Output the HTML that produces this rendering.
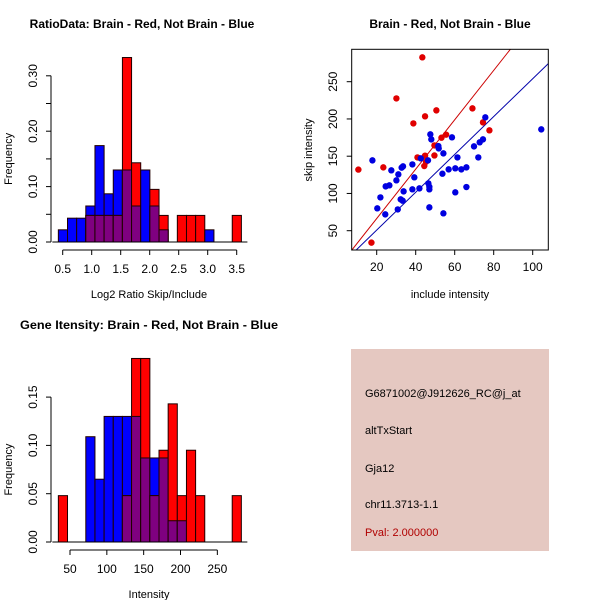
<!DOCTYPE html>
<html><head><meta charset="utf-8"><style>
html,body{margin:0;padding:0;background:#fff;}
svg text{font-family:"Liberation Sans",sans-serif;}
</style></head><body>
<svg id="svg" width="600" height="600" viewBox="0 0 600 600" xmlns="http://www.w3.org/2000/svg">
<rect x="351" y="349" width="198" height="202" fill="#E5C8C1"/>
<text x="365" y="397" font-size="11">G6871002@J912626_RC@j_at</text>
<text x="365" y="434" font-size="11">altTxStart</text>
<text x="365" y="472" font-size="11">Gja12</text>
<text x="365" y="508" font-size="11">chr11.3713-1.1</text>
<text x="365" y="536" font-size="11" fill="#B00000">Pval: 2.000000</text>
</svg>
<script>
// ---- Histogram 1 data ----
const ratioBinStart = 0.425, ratioBinWidth = 0.1578;
const ratioBlue = [0.022,0.043,0.043,0.065,0.174,0.087,0.13,0.13,0.065,0.13,0.065,0.022,0,0,0,0,0.022,0,0,0];
const ratioRed  = [0,0,0,0.048,0.048,0.048,0.048,0.333,0.143,0,0.095,0.048,0,0.048,0.048,0.048,0,0,0,0.048];
const ratioXTicks = [0.5,1.0,1.5,2.0,2.5,3.0,3.5];
const ratioYTicks = [0,0.05,0.10,0.15,0.20,0.25,0.30];
const ratioYLabels = ["0.00","","0.10","","0.20","","0.30"];
// ---- Histogram 2 data ----
const intBinStart = 34.2, intBinWidth = 12.42;
const intBlue = [0,0,0,0.109,0.065,0.13,0.13,0.13,0.13,0.087,0.087,0.087,0.022,0.022,0,0,0,0,0,0];
const intRed  = [0.048,0,0,0,0,0,0,0.048,0.19,0.19,0.048,0.095,0.143,0.048,0.095,0.048,0,0,0,0.048];
const intXTicks = [50,100,150,200,250];
const intYTicks = [0,0.05,0.10,0.15];
const intYLabels = ["0.00","0.05","0.10","0.15"];
// ---- Scatter data ----
const redX = [10.6,17.3,23.4,30.1,38.8,40.9,43.4,44.4,44.8,44.8,45.3,49.6,49.6,50.6,53.2,55.6,69.1,74.5,77.8];
const redY = [132,34,135,227.6,194,148.4,282.7,136.8,203.5,150.7,142.6,151,164.5,211.5,174.8,178.9,214.2,195.4,184.7];
const blueX = [17.8,20.3,21.9,24.4,24.6,26.5,27.5,30.1,30.8,31.1,32.3,32.8,33.5,33.3,33.8,38.3,38.3,39.3,41.9,42.6,46.3,46.5,47,47,47,47.5,48,51.6,51.8,53.7,54.2,54.2,56.9,58.6,60.3,60.3,61.4,63.4,66,66,69.9,72.1,72.8,74.5,75.7,104.4];
const blueY = [144.4,80,94.7,71.9,109.5,110.9,131,117.6,78.6,125.6,92.1,134.6,136.4,90.3,102.8,139,105.5,121.6,106.8,147.1,144.4,113.5,109,105.5,81.3,179.3,172.6,163.6,160.5,126.5,153.8,73.3,132.3,175.3,133.7,101.5,148.4,132.3,108.6,135,163.2,148.4,168.6,172.6,202.1,186];
const redSlope = 3.315, blueSlope = 2.54;
const scXTicks = [20,40,60,80,100];
const scYTicks = [50,100,150,200,250];

const svg = document.getElementById('svg');
const NS = 'http://www.w3.org/2000/svg';
function mk(tag, attrs, text){const e=document.createElementNS(NS,tag);for(const k in attrs)e.setAttribute(k,attrs[k]);if(text!==undefined)e.textContent=text;svg.appendChild(e);return e;}

function histogram(opt){
  const {x0,y0,xs,ys,binStart,binW,blue,red,xTicks,yTicks,yLabels,title,xlab,titleX,titleY,xlabY,prefix} = opt;
  const X = v => x0 + (v - opt.xRef) * xs;
  const Y = v => y0 - v * ys;
  for(let i=0;i<blue.length;i++){
    const a = X(binStart+i*binW), b = X(binStart+(i+1)*binW);
    const hb = blue[i], hr = red[i], m = Math.min(hb,hr);
    if(hb>0){const r=mk('rect',{x:a,y:Y(hb),width:b-a,height:Y(0)-Y(hb),fill:'#0000FF',stroke:'#200000','stroke-width':1});
      
      }
    if(hr>0){const r=mk('rect',{x:a,y:Y(hr),width:b-a,height:Y(0)-Y(hr),fill:'#FF0000',stroke:'#200000','stroke-width':1});
      
      }
    if(m>0){const r=mk('rect',{x:a,y:Y(m),width:b-a,height:Y(0)-Y(m),fill:'#7F0080',stroke:'#200000','stroke-width':1});
      
      }
  }
  const start = X(binStart), end = X(binStart+blue.length*binW);
  const base = mk('line',{x1:start-6,y1:y0,x2:end+6,y2:y0,stroke:'#000','stroke-width':1});
  
  
  const ay = y0+8;
  const xa = mk('line',{x1:X(xTicks[0]),y1:ay,x2:X(xTicks[xTicks.length-1]),y2:ay,stroke:'#000'});
  
  
  xTicks.forEach(t=>{
    mk('line',{x1:X(t),y1:ay,x2:X(t),y2:ay+5,stroke:'#000'});
    const l=mk('text',{x:X(t),y:ay+23,'font-size':12,'text-anchor':'middle'},opt.fmtX(t));
    
    
  });
  const ax = 51;
  const ya = mk('line',{x1:ax,y1:Y(yTicks[0]),x2:ax,y2:Y(yTicks[yTicks.length-1]),stroke:'#000'});
  
  
  yTicks.forEach((t,i)=>{
    mk('line',{x1:ax-5,y1:Y(t),x2:ax,y2:Y(t),stroke:'#000'});
    if(yLabels[i]){
      const l=mk('text',{x:0,y:0,'font-size':12,'text-anchor':'middle',transform:`translate(37,${Y(t)}) rotate(-90)`},yLabels[i]);
      
      
    }
  });
  const ta={x:titleX,y:titleY,'font-size':12,'font-weight':'bold','text-anchor':'middle'};
  if(opt.titleLen){ta.textLength=opt.titleLen;ta.lengthAdjust='spacingAndGlyphs';}
  const tt=mk('text',ta,title);
  
  
  const xl=mk('text',{x:149,y:xlabY,'font-size':11,'text-anchor':'middle'},xlab);
  
  
  const yl=mk('text',{x:0,y:0,'font-size':11,'text-anchor':'middle',transform:`translate(12,${(Y(0)+Y(yTicks[yTicks.length-1]))/2}) rotate(-90)`},'Frequency');
  
  
}

histogram({x0:62.7,xRef:0.5,xs:58,y0:242,ys:554,binStart:ratioBinStart,binW:ratioBinWidth,blue:ratioBlue,red:ratioRed,
  xTicks:ratioXTicks,yTicks:ratioYTicks,yLabels:ratioYLabels,title:'RatioData: Brain - Red, Not Brain - Blue',
  titleX:142,titleY:28,xlab:'Log2 Ratio Skip/Include',xlabY:298,prefix:'ratio-hist',fmtX:t=>t.toFixed(1)});
histogram({x0:70,xRef:50,xs:0.7367,y0:542,ys:966,binStart:intBinStart,binW:intBinWidth,blue:intBlue,red:intRed,
  xTicks:intXTicks,yTicks:intYTicks,yLabels:intYLabels,title:'Gene Itensity: Brain - Red, Not Brain - Blue',
  titleX:149,titleY:329,titleLen:258,xlab:'Intensity',xlabY:598,prefix:'intensity-hist',fmtX:t=>String(t)});

(function(){
  const L=351.7,R=548.3,T=49.3,B=250;
  const X = v => 376.7 + (v-20)*1.95;
  const Y = v => 230.7 - (v-50)*0.745;
  const Xinv = px => 20 + (px-376.7)/1.95;
  const defs = mk('defs',{});
  const cp = document.createElementNS(NS,'clipPath'); cp.setAttribute('id','scClip');
  const cr = document.createElementNS(NS,'rect'); cr.setAttribute('x',L);cr.setAttribute('y',T);cr.setAttribute('width',R-L);cr.setAttribute('height',B-T);
  cp.appendChild(cr); defs.appendChild(cp);
  const g = mk('g',{'clip-path':'url(#scClip)'});
  
  
  const xmin=Xinv(L), xmax=Xinv(R);
  const lr=document.createElementNS(NS,'line');
  lr.setAttribute('x1',X(xmin));lr.setAttribute('y1',Y(redSlope*xmin));lr.setAttribute('x2',X(xmax));lr.setAttribute('y2',Y(redSlope*xmax));
  lr.setAttribute('stroke','#CC0000');
  
  
  g.appendChild(lr);
  const lb=document.createElementNS(NS,'line');
  lb.setAttribute('x1',X(xmin));lb.setAttribute('y1',Y(blueSlope*xmin));lb.setAttribute('x2',X(xmax));lb.setAttribute('y2',Y(blueSlope*xmax));
  lb.setAttribute('stroke','#0000AA');
  
  
  g.appendChild(lb);
  redX.forEach((v,i)=>{const c=mk('circle',{cx:X(v),cy:Y(redY[i]),r:3.2,fill:'#E00000'});
    
    });
  blueX.forEach((v,i)=>{const c=mk('circle',{cx:X(v),cy:Y(blueY[i]),r:3.2,fill:'#0000E0'});
    
    });
  const box=mk('rect',{x:L,y:T,width:R-L,height:B-T,fill:'none',stroke:'#000'});
  
  
  scXTicks.forEach(t=>{
    mk('line',{x1:X(t),y1:B,x2:X(t),y2:B+5,stroke:'#000'});
    const l=mk('text',{x:X(t),y:B+21,'font-size':12,'text-anchor':'middle'},String(t));
    
    
  });
  scYTicks.forEach(t=>{
    mk('line',{x1:L-5,y1:Y(t),x2:L,y2:Y(t),stroke:'#000'});
    const l=mk('text',{x:0,y:0,'font-size':12,'text-anchor':'middle',transform:`translate(337,${Y(t)}) rotate(-90)`},String(t));
    
    
  });
  const tt=mk('text',{x:450,y:28,'font-size':12,'font-weight':'bold','text-anchor':'middle'},'Brain - Red, Not Brain - Blue');
  
  
  const xl=mk('text',{x:450,y:298,'font-size':11,'text-anchor':'middle'},'include intensity');
  
  
  const yl=mk('text',{x:0,y:0,'font-size':11,'text-anchor':'middle',transform:`translate(312,150) rotate(-90)`},'skip intensity');
  
  
})();
</script>
</body></html>
